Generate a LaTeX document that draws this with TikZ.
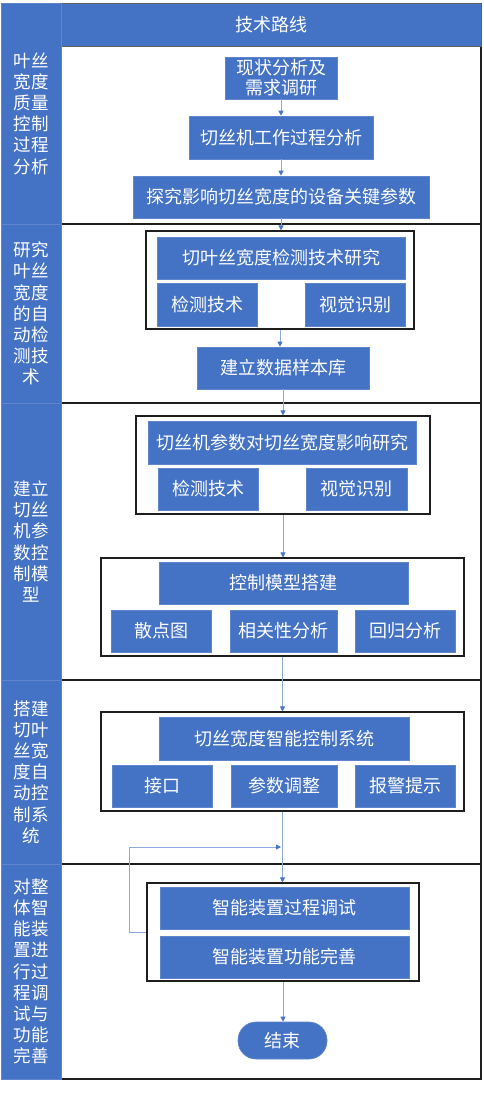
\documentclass[tikz,border=0pt]{standalone}
\usepackage{fontspec}
\newfontfamily\cjk{Noto Sans CJK SC}
\usetikzlibrary{arrows.meta}
\definecolor{bblue}{HTML}{4472C4}
\definecolor{bedge}{HTML}{5F86CD}
\definecolor{flowc}{HTML}{8EA9DB}
\definecolor{tipc}{HTML}{4A76C6}
\definecolor{gline}{HTML}{1E1E1E}
\tikzset{
  bx/.style={rectangle, fill=bblue, draw=bedge, line width=0.6pt, text=white, inner sep=0pt,
    font=\cjk\fontsize{18}{21}\selectfont},
  grp/.style={rectangle, draw=gline, line width=1.05pt, inner sep=0pt},
  lcell/.style={rectangle, fill=bblue, draw=bedge, line width=0.8pt, text=white, inner sep=0pt,
    align=center, font=\cjk\fontsize{17.5}{21.2}\selectfont},
  rcell/.style={rectangle, draw=gline, line width=1.1pt, inner sep=0pt},
  flow/.style={draw=flowc, line width=0.9pt, -{Triangle[length=5pt,width=5pt,fill=tipc,color=tipc]}},
}
\begin{document}
\begin{tikzpicture}[x=1pt,y=-1pt]
\useasboundingbox (0,0) rectangle (483,1112);
\fill[white] (0,0) rectangle (483,1112);

% right cells
\node[rcell, minimum width=420pt, minimum height=178pt] (r1) at (271,135) {};
\node[rcell, minimum width=420pt, minimum height=179pt] (r2) at (271,313.5) {};
\node[rcell, minimum width=420pt, minimum height=277pt] (r3) at (271,541.5) {};
\node[rcell, minimum width=420pt, minimum height=184pt] (r4) at (271,772) {};
\node[rcell, minimum width=420pt, minimum height=215pt] (r5) at (271,971.5) {};
% header
\node[bx, draw=gline!70, line width=1pt, minimum width=420pt, minimum height=43pt] (hd) at (271,24.5) {技术路线};

% left column
\node[lcell, minimum width=60pt, minimum height=221pt] (L1) at (31,113.5) {叶丝\\宽度\\质量\\控制\\过程\\分析};
\node[lcell, minimum width=60pt, minimum height=179pt] (L2) at (31,313.5) {研究\\叶丝\\宽度\\的自\\动检\\测技\\术};
\node[lcell, minimum width=60pt, minimum height=277pt] (L3) at (31,541.5) {建立\\切丝\\机参\\数控\\制模\\型};
\node[lcell, minimum width=60pt, minimum height=184pt] (L4) at (31,772) {搭建\\切叶\\丝宽\\度自\\动控\\制系\\统};
\node[lcell, minimum width=60pt, minimum height=215pt] (L5) at (31,971.5) {对整\\体智\\能装\\置进\\行过\\程调\\试与\\功能\\完善};

% row 1
\node[bx, minimum width=112pt, minimum height=42pt, align=center, font=\cjk\fontsize{18}{20}\selectfont] (n1) at (281,78) {现状分析及\\需求调研};
\node[bx, minimum width=184pt, minimum height=43pt] (n2) at (281,137.5) {切丝机工作过程分析};
\node[bx, minimum width=296pt, minimum height=42pt] (n3) at (281,197) {探究影响切丝宽度的设备关键参数};

% row 2
\node[grp, minimum width=268pt, minimum height=98pt] (g2) at (280,280) {};
\node[bx, minimum width=248pt, minimum height=42pt] (b21) at (281,258) {切叶丝宽度检测技术研究};
\node[bx, minimum width=100pt, minimum height=43pt] (b22) at (207,304.5) {检测技术};
\node[bx, minimum width=100pt, minimum height=43pt] (b23) at (355,304.5) {视觉识别};
\node[bx, minimum width=172pt, minimum height=42pt] (b24) at (283,368) {建立数据样本库};

% row 3
\node[grp, minimum width=294pt, minimum height=98pt] (g3) at (283,465) {};
\node[bx, minimum width=268pt, minimum height=43pt] (b31) at (282,442.5) {切丝机参数对切丝宽度影响研究};
\node[bx, minimum width=100pt, minimum height=42pt] (b32) at (208,489) {检测技术};
\node[bx, minimum width=101pt, minimum height=42pt] (b33) at (356.5,489) {视觉识别};
\node[grp, minimum width=363pt, minimum height=98pt] (g3b) at (282.5,607) {};
\node[bx, minimum width=249pt, minimum height=42pt] (b34) at (283.5,583) {控制模型搭建};
\node[bx, minimum width=100pt, minimum height=42pt] (b35) at (161,631) {散点图};
\node[bx, minimum width=107pt, minimum height=42pt] (b36) at (283.5,631) {相关性分析};
\node[bx, minimum width=100pt, minimum height=42pt] (b37) at (405,631) {回归分析};

% row 4
\node[grp, minimum width=363pt, minimum height=99pt] (g4) at (282.5,761.5) {};
\node[bx, minimum width=250pt, minimum height=43pt] (b41) at (284,738.5) {切丝宽度智能控制系统};
\node[bx, minimum width=100pt, minimum height=42pt] (b42) at (162,786) {接口};
\node[bx, minimum width=106pt, minimum height=42pt] (b43) at (284,786) {参数调整};
\node[bx, minimum width=100pt, minimum height=42pt] (b44) at (405,786) {报警提示};

% row 5
\node[grp, minimum width=272pt, minimum height=98pt] (g5) at (283,932) {};
\node[bx, minimum width=249pt, minimum height=42pt] (b51) at (284.5,908) {智能装置过程调试};
\node[bx, minimum width=249pt, minimum height=42pt] (b52) at (284.5,957) {智能装置功能完善};
\node[bx, minimum width=89pt, minimum height=37pt, rounded corners=18pt] (end) at (282.5,1040.5) {结束};

% flow arrows
\draw[flow] (n1.south) -- (n1.south |- n2.north);
\draw[flow] (n2.south) -- (n2.south |- n3.north);
\draw[flow] (n3.south) -- (n3.south |- g2.north);
\draw[flow] (g2.south) -- (g2.south |- b24.north);
\draw[flow] (b24.south) -- (b24.south |- g3.north);
\draw[flow] (g3.south) -- (g3.south |- g3b.north);
\draw[flow] (g3b.south) -- (g3b.south |- g4.north);
\draw[flow] (g4.south) -- (g4.south |- g5.north);
\draw[flow] (g5.south) -- (g5.south |- end.north);
% feedback loop
\coordinate (lp) at (129,847);
\draw[flow] (g5.west) -| (lp) -- ([xshift=-1.5pt]lp -| g4.south);
\end{tikzpicture}
\end{document}
